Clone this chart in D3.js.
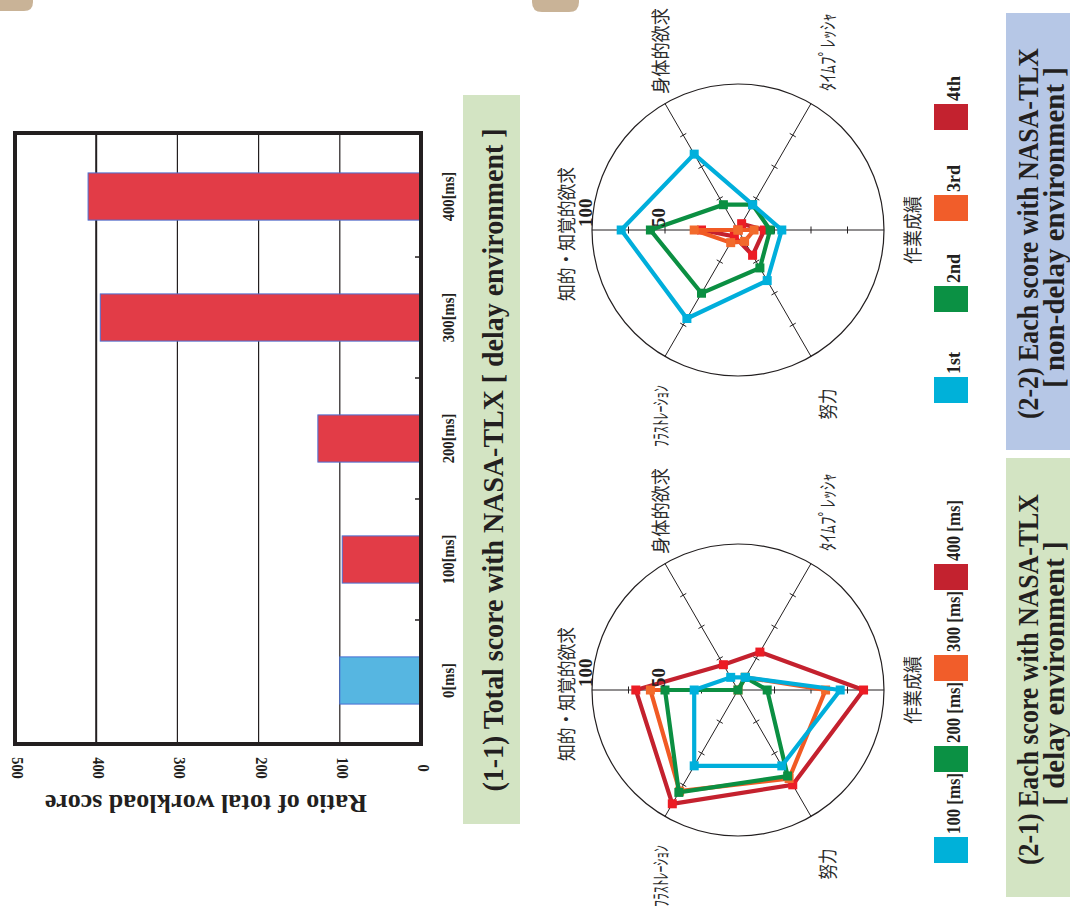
<!DOCTYPE html>
<html>
<head>
<meta charset="utf-8">
<script src="https://cdn.jsdelivr.net/npm/d3@7"></script>
<style>
  body { margin: 0; background: #fff; }
  svg { display: block; }
</style>
</head>
<body>
<svg id="fig" width="1070" height="910"></svg>
<script>
// ---- (1-1) total NASA-TLX workload, ratio to the no-delay case ----
const delays = ["0[ms]", "100[ms]", "200[ms]", "300[ms]", "400[ms]"];
const totalScores = [100, 97, 127, 395, 410];
const totalTicks = [0, 100, 200, 300, 400, 500];

// ---- NASA-TLX subscales (radar axes) ----
const subscales = ["知的・知覚的欲求", "身体的欲求", "ﾀｲﾑﾌﾟﾚｯｼｬ", "作業成績", "努力", "ﾌﾗｽﾄﾚｰｼｮﾝ"];
const radarTicks = [25, 50, 75];
const radarTickLabels = [50, 100];

// ---- (2-1) delay environment ----
const delayNames = ["100 [ms]", "200 [ms]", "300 [ms]", "400 [ms]"];
const delay100 = [30, 10, 10, 70, 60, 60];
const delay200 = [50, 0, 10, 20, 68, 81];
const delay300 = [60, 0, 10, 60, 70, 80];
const delay400 = [70, 20, 30, 86, 75, 90];

// ---- (2-2) non-delay environment, by trial ----
const trialNames = ["1st", "2nd", "3rd", "4th"];
const trial1 = [80, 60, 20, 30, 40, 70];
const trial2 = [60, 20, 20, 22, 30, 50];
const trial3 = [30, 0, 0, 11, 9, 10];
const trial4 = [25, 0, 5, 18, 20, 5];

const seriesColors = ["#00aedb", "#0b8f42", "#f15a24", "#c4212e"];
const markerColors = ["#00b0dc", "#0b8f42", "#f26a2c", "#ec1c24"];
const legendColors = ["#00b1d9", "#0b9144", "#f15d2a", "#c3222f"];

const INK = "#231f20";
const SERIF = "'Liberation Serif', 'Times New Roman', serif";
const CJK = "'Noto Sans CJK JP', 'Noto Sans', sans-serif";

const svg = d3.select("#fig");
svg.append("rect").attr("width", 1070).attr("height", 910).attr("fill", "#fff");

// page tabs along the top edge
svg.append("path").attr("d", "M0,0 H33 V2 Q33,11 24,11 H0 Z").attr("fill", "#c9b397");
svg.append("path").attr("d", "M532,0 H579 V2 Q579,12 569,12 H542 Q532,12 532,2 Z").attr("fill", "#c9b397");

// rotated text helper
function rtext(g, x, y, angle, str, opts) {
  const t = g.append("text")
    .attr("transform", `translate(${x},${y}) rotate(${angle})`)
    .attr("text-anchor", opts.anchor || "middle")
    .attr("font-family", opts.family || SERIF)
    .attr("font-weight", opts.weight || "bold")
    .attr("font-size", opts.size)
    .attr("fill", opts.fill || INK)
    .text(str);
  if (opts.baseline) t.attr("dominant-baseline", opts.baseline);
  if (opts.len) t.attr("textLength", opts.len).attr("lengthAdjust", "spacingAndGlyphs");
  return t;
}

// ================= bar chart =================
const bar = svg.append("g");
const bx = d3.scaleLinear().domain([0, 500]).range([421, 15]);
const by = d3.scaleBand().domain(delays).range([744, 133]).paddingInner(0.61).paddingOuter(0.33);

bar.selectAll("line.grid")
  .data(totalTicks.filter(t => t > 0 && t < 500))
  .join("line")
  .attr("x1", d => bx(d)).attr("x2", d => bx(d))
  .attr("y1", 133).attr("y2", 744)
  .attr("stroke", INK)
  .attr("stroke-width", d => d === 400 ? 2 : 1.2);

bar.selectAll("rect.bar")
  .data(delays)
  .join("rect")
  .attr("x", (d, i) => bx(totalScores[i]))
  .attr("y", d => by(d))
  .attr("width", (d, i) => bx(0) - bx(totalScores[i]))
  .attr("height", by.bandwidth())
  .attr("fill", (d, i) => i === 0 ? "#56b6e1" : "#e23c47")
  .attr("stroke", "#4b6fd3")
  .attr("stroke-width", 1);

// category separators
bar.selectAll("line.sep")
  .data(delays.slice(1))
  .join("line")
  .attr("x1", 415).attr("x2", 421)
  .attr("y1", d => by(d) + by.bandwidth() + (by.step() - by.bandwidth()) / 2)
  .attr("y2", d => by(d) + by.bandwidth() + (by.step() - by.bandwidth()) / 2)
  .attr("stroke", INK).attr("stroke-width", 1.5);

bar.append("rect")
  .attr("x", 15).attr("y", 133).attr("width", 406).attr("height", 611)
  .attr("fill", "none").attr("stroke", INK).attr("stroke-width", 4);

// value ticks (upside-down orientation of the source layout)
totalTicks.forEach(v => {
  rtext(bar, bx(v) + 3, 768, 90, String(v), { size: 17, baseline: "central" })
    .attr("transform", `translate(${bx(v) + 3},768) rotate(90) scale(0.85,1)`);
});
rtext(bar, 206, 803, 180, "Ratio of total workload score", { size: 25, baseline: "central", len: 322 });

// category labels
delays.forEach(d => {
  const t = rtext(bar, 448, by(d) + by.bandwidth() / 2, -90, d, { size: 17, baseline: "central" });
  t.attr("transform", `translate(448,${by(d) + by.bandwidth() / 2}) rotate(-90) scale(0.86,1)`);
});

// title box (1-1)
svg.append("rect").attr("x", 463).attr("y", 95).attr("width", 57).attr("height", 729).attr("fill", "#d3e4c3");
rtext(svg, 492, 460, -90, "(1-1) Total score with NASA-TLX [ delay environment ]",
  { size: 30, baseline: "central", len: 663 });

// ================= radar charts =================
const rr = d3.scaleLinear().domain([0, 100]).range([0, 146]);
const angles = subscales.map((_, i) => -Math.PI / 2 + i * Math.PI / 3);

const labelOffsets = [
  { dx: -173, dy: 4, len: 134, size: 19 },
  { dx: -79, dy: -179, len: 86, size: 19 },
  { dx: 88, dy: -178, len: 78, size: 19 },
  { dx: 173, dy: 0, len: 68, size: 19 },
  { dx: 88, dy: 174, len: 31, size: 19 },
  { dx: -79, dy: 186, len: 62, size: 19 }
];

function drawRadar(cx, cy, series, names, title1, title2, boxFill, boxY, boxH) {
  const g = svg.append("g").attr("transform", `translate(${cx},${cy})`);

  g.append("circle").attr("r", rr(100)).attr("fill", "none").attr("stroke", INK).attr("stroke-width", 1.2);

  angles.forEach(a => {
    const [ex, ey] = d3.pointRadial(a, rr(100));
    g.append("line").attr("x1", 0).attr("y1", 0).attr("x2", ex).attr("y2", ey)
      .attr("stroke", INK).attr("stroke-width", 1);
    radarTicks.forEach(t => {
      const [px, py] = d3.pointRadial(a, rr(t));
      const ux = Math.cos(a) * 3.5, uy = Math.sin(a) * 3.5;
      g.append("line").attr("x1", px - ux).attr("y1", py - uy).attr("x2", px + ux).attr("y2", py + uy)
        .attr("stroke", INK).attr("stroke-width", 1);
    });
  });

  const line = d3.lineRadial()
    .angle((d, i) => angles[i])
    .radius(d => rr(d))
    .curve(d3.curveLinearClosed);

  // draw the last series first so the first one ends up on top
  d3.range(series.length).reverse().forEach(k => {
    const vals = series[k];
    g.append("path").attr("d", line(vals)).attr("fill", "none")
      .attr("stroke", seriesColors[k]).attr("stroke-width", 4.2).attr("stroke-linejoin", "miter");
    g.selectAll(null).data(vals).join("rect")
      .attr("x", (d, i) => d3.pointRadial(angles[i], rr(d))[0] - 4.5)
      .attr("y", (d, i) => d3.pointRadial(angles[i], rr(d))[1] - 4.5)
      .attr("width", 9).attr("height", 9)
      .attr("fill", markerColors[k]);
  });

  // scale labels along the left axis
  radarTickLabels.forEach(v => {
    const [px] = d3.pointRadial(angles[0], rr(v));
    rtext(g, px, -3, -90, String(v), { size: 19, anchor: "start" });
  });

  // subscale names
  subscales.forEach((s, i) => {
    const o = labelOffsets[i];
    rtext(g, o.dx, o.dy, -90, s, { size: o.size, family: CJK, weight: "normal", baseline: "central", fill: "#2b2b2b", len: o.len });
  });

  // legend
  names.forEach((n, k) => {
    const top = 147 - 91 * k;
    g.append("rect").attr("x", 196).attr("y", top).attr("width", 34).attr("height", 26).attr("fill", legendColors[k]);
  });
  names.forEach((n, k) => {
    const top = 147 - 91 * k;
    const t = rtext(g, 222, top - 3, -90, n, { size: 18, anchor: "start" });
    if (n.length > 4) t.attr("textLength", 61).attr("lengthAdjust", "spacingAndGlyphs");
  });

  // title box
  svg.append("rect").attr("x", 1006).attr("y", boxY).attr("width", 64).attr("height", boxH).attr("fill", boxFill);
  const mid = boxY + boxH / 2;
  rtext(svg, 1038, mid + 2, -90, title1, { size: 29, len: 371 });
  rtext(svg, 1064, mid - 4, -90, title2, { size: 29 });
}

drawRadar(738, 230, [trial1, trial2, trial3, trial4], trialNames,
  "(2-2) Each score with NASA-TLX", "[ non-delay environment ]", "#b6c7e6", 13, 437);
drawRadar(738, 690, [delay100, delay200, delay300, delay400], delayNames,
  "(2-1) Each score with NASA-TLX", "[ delay environment ]", "#d3e4c3", 458, 439);
</script>
</body>
</html>
